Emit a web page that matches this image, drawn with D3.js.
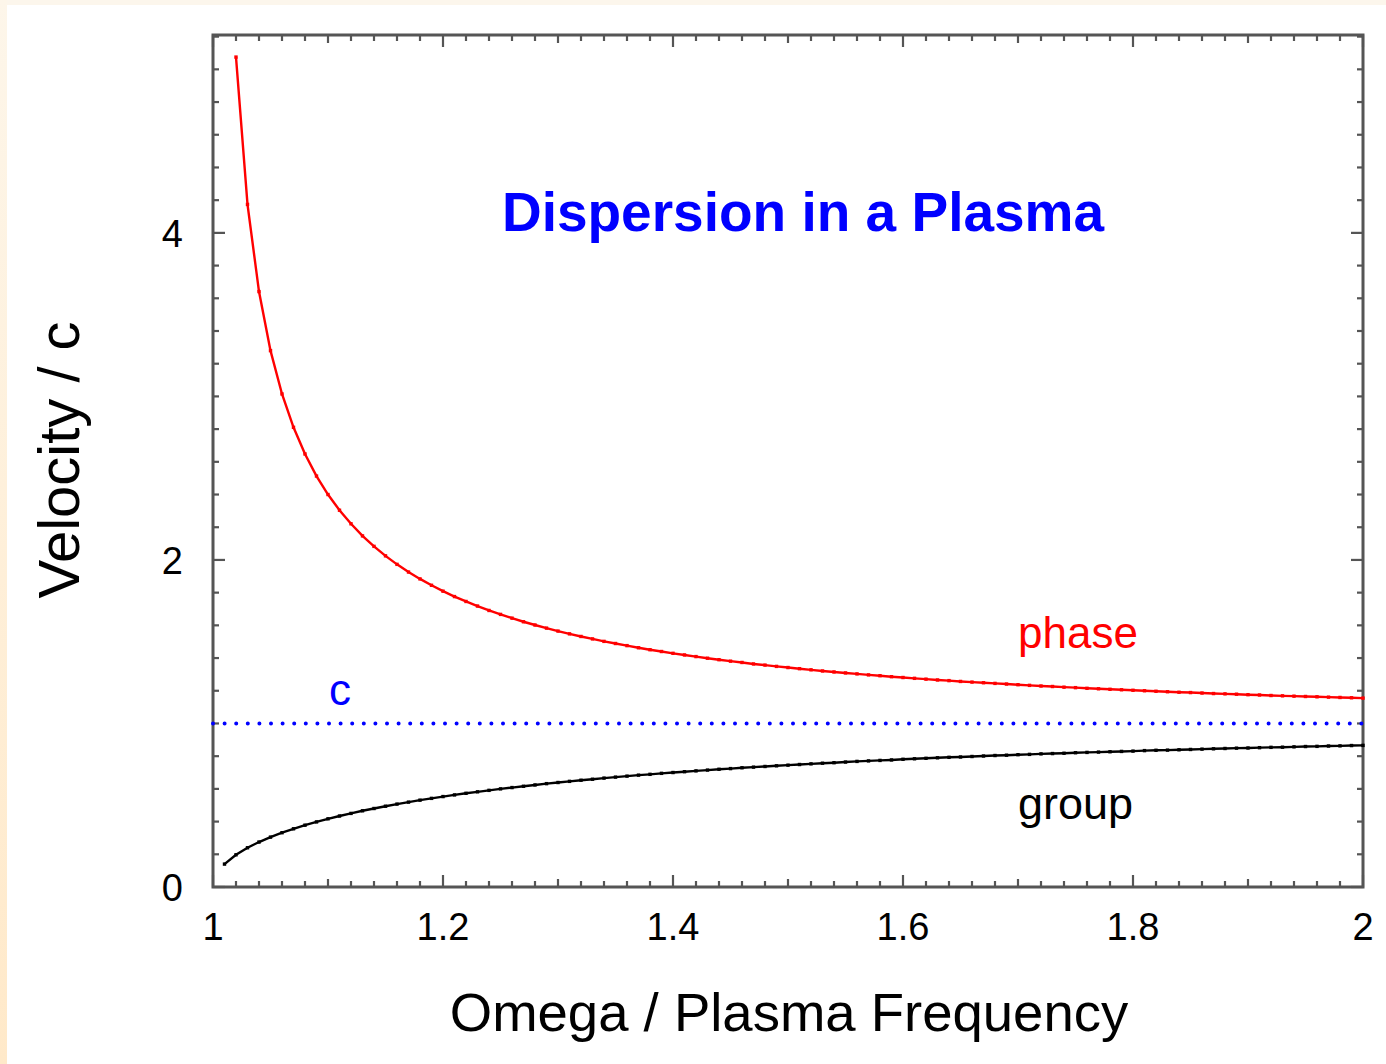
<!DOCTYPE html>
<html>
<head>
<meta charset="utf-8">
<script src="https://cdn.jsdelivr.net/npm/d3@7"></script>
<style>
  html, body { margin: 0; padding: 0; background: #fff; }
  svg { display: block; }
  text { font-family: "Liberation Sans", Arial, Helvetica, sans-serif; }
</style>
</head>
<body>
<svg id="chart" width="1386" height="1064"></svg>
<script>
// ---- data ----
const omega = [
  1.01,1.02,1.03,1.04,1.05,1.06,1.07,1.08,1.09,1.10,
  1.11,1.12,1.13,1.14,1.15,1.16,1.17,1.18,1.19,1.20,
  1.21,1.22,1.23,1.24,1.25,1.26,1.27,1.28,1.29,1.30,
  1.31,1.32,1.33,1.34,1.35,1.36,1.37,1.38,1.39,1.40,
  1.41,1.42,1.43,1.44,1.45,1.46,1.47,1.48,1.49,1.50,
  1.51,1.52,1.53,1.54,1.55,1.56,1.57,1.58,1.59,1.60,
  1.61,1.62,1.63,1.64,1.65,1.66,1.67,1.68,1.69,1.70,
  1.71,1.72,1.73,1.74,1.75,1.76,1.77,1.78,1.79,1.80,
  1.81,1.82,1.83,1.84,1.85,1.86,1.87,1.88,1.89,1.90,
  1.91,1.92,1.93,1.94,1.95,1.96,1.97,1.98,1.99,2.00
];
const phaseVelocity = [
  null, 5.075,4.174,3.641,3.280,3.015,2.811,2.648,2.513,2.400,
  2.304,2.221,2.147,2.083,2.025,1.973,1.926,1.884,1.845,1.809,
  1.776,1.746,1.718,1.691,1.667,1.644,1.622,1.602,1.583,1.565,
  1.548,1.532,1.517,1.502,1.489,1.476,1.463,1.451,1.440,1.429,
  1.419,1.409,1.399,1.390,1.381,1.373,1.364,1.357,1.349,1.342,
  1.335,1.328,1.321,1.315,1.309,1.303,1.297,1.292,1.286,1.281,
  1.276,1.271,1.266,1.262,1.257,1.253,1.249,1.245,1.241,1.237,
  1.233,1.229,1.226,1.222,1.219,1.215,1.212,1.209,1.206,1.203,
  1.200,1.197,1.194,1.191,1.189,1.186,1.183,1.181,1.179,1.176,
  1.174,1.171,1.169,1.167,1.165,1.163,1.161,1.159,1.157,1.155
];
const groupVelocity = [
  0.140,0.197,0.240,0.275,0.305,0.332,0.356,0.378,0.398,0.417,
  0.434,0.450,0.466,0.480,0.494,0.507,0.519,0.531,0.542,0.553,
  0.563,0.573,0.582,0.591,0.600,0.608,0.616,0.624,0.632,0.639,
  0.646,0.653,0.659,0.666,0.672,0.678,0.684,0.689,0.695,0.700,
  0.705,0.710,0.715,0.720,0.724,0.729,0.733,0.737,0.741,0.745,
  0.749,0.753,0.757,0.760,0.764,0.768,0.771,0.774,0.777,0.781,
  0.784,0.787,0.790,0.793,0.795,0.798,0.801,0.804,0.806,0.809,
  0.811,0.814,0.816,0.818,0.821,0.823,0.825,0.827,0.829,0.831,
  0.834,0.836,0.837,0.839,0.841,0.843,0.845,0.847,0.849,0.850,
  0.852,0.854,0.855,0.857,0.859,0.860,0.862,0.863,0.865,0.866
];
const lightSpeed = [1, 1];           // c line, from x=1 to x=2
const xTickLabels = ["1", "1.2", "1.4", "1.6", "1.8", "2"];
const xTickValues = [1, 1.2, 1.4, 1.6, 1.8, 2];
const yTickLabels = ["0", "2", "4"];
const yTickValues = [0, 2, 4];

// ---- layout ----
const svg = d3.select("#chart");
const W = 1386, H = 1064;
const pLeft = 213, pRight = 1363, pTop = 35, pBottom = 887;

// page background with cream edge strips
const defs = svg.append("defs");
const grad = defs.append("linearGradient").attr("id", "edgeGrad")
  .attr("x1", 0).attr("y1", 0).attr("x2", 0).attr("y2", 1);
grad.append("stop").attr("offset", "0%").attr("stop-color", "#fdf6ea");
grad.append("stop").attr("offset", "100%").attr("stop-color", "#ffe9c9");
svg.append("rect").attr("width", W).attr("height", H).attr("fill", "#fff");
svg.append("rect").attr("x", 0).attr("y", 0).attr("width", W).attr("height", 5).attr("fill", "#fcf6ec");
svg.append("rect").attr("x", 0).attr("y", 0).attr("width", 7).attr("height", H).attr("fill", "url(#edgeGrad)");

const x = d3.scaleLinear().domain([1, 2]).range([pLeft, pRight]);
const y = d3.scaleLinear().domain([0, 5.21]).range([pBottom, pTop]);

const frameColor = "#555";

// ticks (inward, mirrored on all sides)
const g = svg.append("g");
function xTickLen(v) {
  const r = Math.round(v * 100);
  if (r % 20 === 0) return 12;
  if (r % 10 === 0) return 8;
  return 6;
}
const xMinor = d3.range(100, 201, 2).map(d => d / 100);
xMinor.forEach(v => {
  const L = xTickLen(v);
  g.append("line").attr("x1", x(v)).attr("x2", x(v)).attr("y1", pBottom).attr("y2", pBottom - L)
    .attr("stroke", frameColor).attr("stroke-width", 2.2);
  g.append("line").attr("x1", x(v)).attr("x2", x(v)).attr("y1", pTop).attr("y2", pTop + L)
    .attr("stroke", frameColor).attr("stroke-width", 2.2);
});
const yMinor = d3.range(0, 27, 1).map(d => d / 5).filter(v => v <= 5.21);
yMinor.forEach(v => {
  const L = (Math.round(v * 5) % 10 === 0) ? 12 : 6;
  g.append("line").attr("x1", pLeft).attr("x2", pLeft + L).attr("y1", y(v)).attr("y2", y(v))
    .attr("stroke", frameColor).attr("stroke-width", 2.2);
  g.append("line").attr("x1", pRight).attr("x2", pRight - L).attr("y1", y(v)).attr("y2", y(v))
    .attr("stroke", frameColor).attr("stroke-width", 2.2);
});

// frame
svg.append("rect").attr("x", pLeft).attr("y", pTop).attr("width", pRight - pLeft).attr("height", pBottom - pTop)
  .attr("fill", "none").attr("stroke", frameColor).attr("stroke-width", 3);

// tick labels
svg.append("g").selectAll("text").data(xTickValues).join("text")
  .attr("x", d => x(d)).attr("y", 940)
  .attr("text-anchor", "middle").attr("font-size", 38).attr("fill", "#000")
  .text((d, i) => xTickLabels[i]);
svg.append("g").selectAll("text").data(yTickValues).join("text")
  .attr("x", 183).attr("y", d => y(d) + 14)
  .attr("text-anchor", "end").attr("font-size", 38).attr("fill", "#000")
  .text((d, i) => yTickLabels[i]);

// axis titles
svg.append("text").attr("x", 789).attr("y", 1031)
  .attr("text-anchor", "middle").attr("font-size", 54.5).attr("fill", "#000")
  .text("Omega / Plasma Frequency");
svg.append("text").attr("transform", "translate(79, 460) rotate(-90)")
  .attr("text-anchor", "middle").attr("font-size", 58).attr("fill", "#000")
  .text("Velocity / c");

// title
svg.append("text").attr("x", 803).attr("y", 231)
  .attr("text-anchor", "middle").attr("font-size", 55).attr("font-weight", "bold").attr("fill", "#0000ff")
  .text("Dispersion in a Plasma");

// curves
const plot = svg.append("g");
const line = d3.line().defined(d => d[1] != null).x(d => x(d[0])).y(d => y(d[1]));

// c line (dotted)
plot.append("path").datum(lightSpeed.map((v, i) => [1 + i, v]))
  .attr("d", line).attr("fill", "none").attr("stroke", "#0000ff")
  .attr("stroke-width", 4).attr("stroke-linecap", "round")
  .attr("stroke-dasharray", "0 11.6");

function drawSeries(vals, color) {
  const pts = omega.map((w, i) => [w, vals[i]]).filter(d => d[1] != null);
  plot.append("path").datum(pts).attr("d", line)
    .attr("fill", "none").attr("stroke", color).attr("stroke-width", 2.4);
  plot.append("g").selectAll("rect").data(pts).join("rect")
    .attr("x", d => x(d[0]) - 1.7).attr("y", d => y(d[1]) - 1.7)
    .attr("width", 3.4).attr("height", 3.4).attr("fill", color);
}
drawSeries(phaseVelocity, "#ff0000");
drawSeries(groupVelocity, "#000000");

// series labels
svg.append("text").attr("x", 1018).attr("y", 648).attr("font-size", 44).attr("fill", "#ff0000").text("phase");
svg.append("text").attr("x", 1018).attr("y", 819).attr("font-size", 45).attr("fill", "#000").text("group");
svg.append("text").attr("x", 329).attr("y", 705).attr("font-size", 44).attr("fill", "#0000ff").text("c");
</script>
</body>
</html>
